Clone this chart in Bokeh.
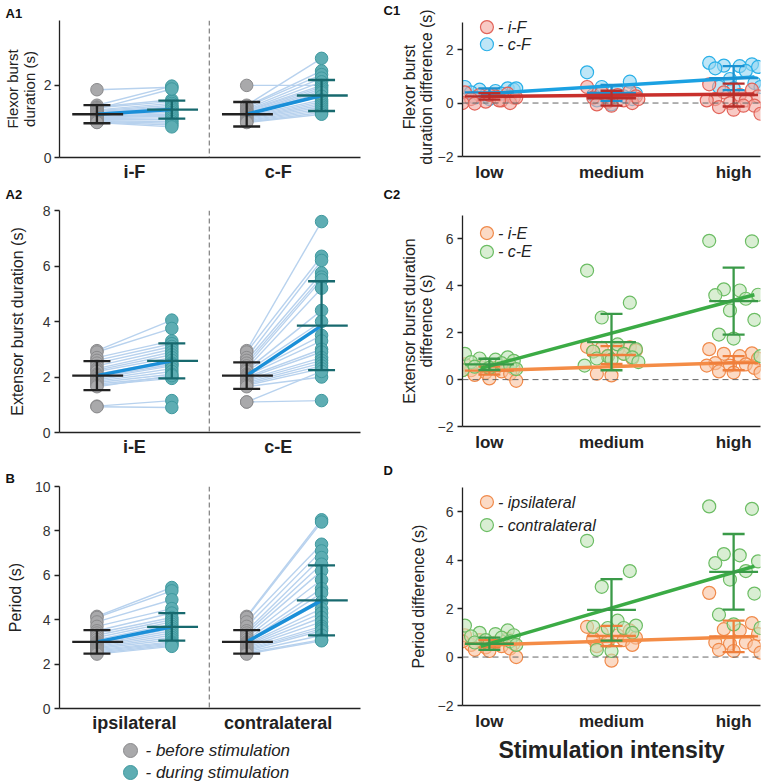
from bokeh.plotting import figure
from bokeh.layouts import row, column
from bokeh.models import FixedTicker, Span, Title, Range1d
from bokeh.embed import file_html
from bokeh.resources import INLINE
from bokeh.core.properties import value

FONT = "Liberation Sans"

# ---------------- Left panels: paired data (before -> during stimulation) ----------------
left_tick_pos = [1.5, 3.42]
a1_ticklabels = ["i-F", "c-F"]
a2_ticklabels = ["i-E", "c-E"]
b_ticklabels = ["ipsilateral", "contralateral"]

# A1 flexor burst duration (s)
a1_ipsi_before = [1.88, 1.45, 1.4, 1.38, 1.35, 1.32, 1.3, 1.28, 1.25, 1.22, 1.2, 1.18, 1.15, 1.12, 1.1, 1.08, 1.05, 1.02, 1.0, 0.98, 0.97]
a1_ipsi_during = [1.95, 1.98, 1.6, 1.55, 1.9, 1.5, 1.45, 1.4, 1.38, 1.35, 1.3, 1.25, 1.2, 1.18, 1.15, 1.1, 1.05, 1.0, 0.95, 0.9, 0.85]
a1_contra_before = [2.0, 1.45, 1.42, 1.4, 1.35, 1.32, 1.3, 1.28, 1.25, 1.22, 1.2, 1.18, 1.15, 1.12, 1.1, 1.08, 1.05, 1.02, 1.0, 0.98, 0.97]
a1_contra_during = [2.0, 2.75, 2.4, 2.3, 2.2, 2.1, 2.0, 1.95, 1.9, 1.85, 1.8, 1.7, 1.6, 1.55, 1.5, 1.45, 1.4, 1.35, 1.3, 1.25, 1.2]
a1_mean = [1.2, 1.33, 1.2, 1.72]
a1_sd = [0.25, 0.25, 0.34, 0.43]

# A2 extensor burst duration (s)
a2_ipsi_before = [2.95, 2.9, 2.7, 2.6, 2.5, 2.4, 2.3, 2.25, 2.2, 2.1, 2.05, 2.0, 1.95, 1.9, 1.85, 1.8, 1.75, 1.7, 1.65, 0.95, 0.93]
a2_ipsi_during = [4.05, 3.75, 3.3, 3.2, 3.1, 3.0, 2.9, 2.8, 2.7, 2.6, 2.5, 2.45, 2.4, 2.3, 2.2, 2.1, 2.0, 1.95, 2.05, 1.15, 0.9]
a2_contra_before = [2.95, 2.9, 2.7, 2.6, 2.5, 2.4, 2.3, 2.25, 2.2, 2.1, 2.05, 2.0, 1.95, 1.9, 1.85, 1.8, 1.75, 1.7, 1.65, 1.1, 1.1]
a2_contra_during = [7.6, 6.35, 6.2, 5.75, 5.6, 5.5, 5.2, 4.4, 4.0, 3.5, 3.3, 3.0, 2.9, 2.7, 2.6, 2.5, 2.4, 2.3, 2.0, 2.2, 1.15]
a2_mean = [2.05, 2.58, 2.05, 3.85]
a2_sd = [0.52, 0.63, 0.48, 1.6]

# B period (s)
b_ipsi_before = [4.15, 4.1, 3.9, 3.7, 3.5, 3.4, 3.3, 3.2, 3.1, 3.0, 2.95, 2.9, 2.85, 2.8, 2.75, 2.7, 2.65, 2.6, 2.55, 2.5, 2.45]
b_ipsi_during = [5.45, 5.3, 4.9, 4.5, 4.3, 4.1, 4.0, 3.9, 3.8, 3.7, 3.6, 3.5, 3.4, 3.3, 3.2, 3.1, 3.0, 2.95, 2.9, 2.85, 2.8]
b_contra_before = [4.15, 4.1, 3.9, 3.7, 3.5, 3.4, 3.3, 3.2, 3.1, 3.0, 2.95, 2.9, 2.85, 2.8, 2.75, 2.7, 2.65, 2.6, 2.55, 2.5, 2.45]
b_contra_during = [8.5, 8.4, 7.4, 7.1, 6.8, 6.5, 6.2, 5.8, 5.4, 5.2, 4.8, 4.5, 4.3, 4.1, 3.9, 3.7, 3.6, 3.5, 3.3, 3.1, 3.05]
b_mean = [3.0, 3.68, 3.0, 4.87]
b_sd = [0.53, 0.62, 0.53, 1.58]

# ---------------- Right panels: differences vs stimulation intensity ----------------
intensity = ["low", "medium", "high"]
jitter = [-0.2, 0.15, -0.08, 0.05, 0.2, -0.15, 0.1, -0.03, 0.17, -0.12, 0.0, 0.22, -0.22, 0.08]

# C1 flexor difference
c1_iF_low = [0.4, 0.35, 0.3, 0.25, 0.2, 0.15, 0.1, 0.05, 0.0, -0.02, 0.3, 0.2, 0.0, 0.1]
c1_iF_med = [0.6, 0.45, 0.4, 0.3, 0.25, 0.2, 0.1, 0.05, 0.0, -0.05, -0.1, 0.15]
c1_iF_high = [0.7, 0.5, 0.4, 0.3, 0.25, 0.15, 0.1, 0.0, -0.1, -0.15, -0.25, -0.4, 0.1, -0.1]
c1_cF_low = [0.6, 0.55, 0.5, 0.45, 0.5, 0.4, 0.35, 0.3, 0.25, 0.2, 0.15, 0.55]
c1_cF_med = [1.15, 0.8, 0.6, 0.45, 0.35, 0.3, 0.25, 0.2, 0.15, 0.1, -0.05]
c1_cF_high = [1.5, 1.45, 1.4, 1.38, 1.35, 1.3, 1.2, 0.9, 0.75, 0.6, 0.55, 0.6]
c1_iF_mean = [0.25, 0.18, 0.3]
c1_iF_sd = [0.12, 0.28, 0.43]
c1_cF_mean = [0.4, 0.38, 0.93]
c1_cF_sd = [0.15, 0.3, 0.45]
c1_iF_fit = [0.25, 0.33]
c1_cF_fit = [0.36, 0.93]

# C2 extensor difference
c2_iE_low = [0.65, 0.6, 0.55, 0.5, 0.45, 0.4, 0.35, 0.3, 0.25, 0.2, 0.05, -0.05, 0.4]
c2_iE_med = [1.4, 1.38, 1.35, 1.3, 1.25, 1.2, 1.1, 1.0, 0.9, 0.25, 0.18]
c2_iE_high = [1.3, 1.12, 1.1, 1.0, 0.9, 0.7, 0.65, 0.6, 0.5, 0.35, 0.3, 0.3, 0.6]
c2_cE_low = [1.1, 0.95, 0.9, 0.85, 0.8, 0.75, 0.7, 0.65, 0.6, 0.55, 0.5, 0.45, 0.4]
c2_cE_med = [4.65, 3.28, 2.65, 1.5, 1.3, 1.2, 1.1, 1.0, 0.95, 0.9, 0.85, 0.75, 0.6]
c2_cE_high = [5.92, 5.9, 3.85, 3.8, 3.62, 3.6, 3.45, 2.95, 2.55, 1.92, 1.75, 1.0]
c2_iE_mean = [0.38, 1.05, 0.7]
c2_iE_sd = [0.17, 0.38, 0.3]
c2_cE_mean = [0.65, 1.6, 3.35]
c2_cE_sd = [0.24, 1.2, 1.43]
c2_iE_fit = [0.38, 0.72]
c2_cE_fit = [0.58, 3.38]

# D period difference
d_ipsi_low = [0.9, 0.75, 0.7, 0.6, 0.55, 0.5, 0.45, 0.4, 0.35, 0.3, 0.25, 0.0, 0.65]
d_ipsi_med = [1.25, 1.1, 1.0, 0.9, 0.8, 0.75, 0.7, 0.65, 0.5, 0.45, -0.15]
d_ipsi_high = [2.65, 1.4, 1.15, 1.1, 0.95, 0.6, 0.6, 0.55, 0.45, 0.3, 0.25, 0.18]
d_contra_low = [1.3, 1.1, 1.0, 0.95, 0.9, 0.85, 0.8, 0.7, 0.65, 0.6, 0.55, 0.5]
d_contra_med = [4.8, 3.55, 2.9, 1.5, 1.3, 1.25, 1.2, 1.2, 1.0, 0.3, 0.25]
d_contra_high = [6.22, 6.12, 4.25, 4.2, 3.95, 3.88, 3.55, 3.2, 2.62, 1.75, 1.35, 1.2]
d_ipsi_mean = [0.55, 0.87, 0.85]
d_ipsi_sd = [0.15, 0.42, 0.65]
d_contra_mean = [0.55, 1.95, 3.52]
d_contra_sd = [0.25, 1.27, 1.56]
d_ipsi_fit = [0.5, 0.82]
d_contra_fit = [0.55, 3.5]

# ---------------- Styles ----------------
GRAY_F, GRAY_L = "#a9a9ab", "#8a8a8c"
TEAL_F, TEAL_L = "#5eadb3", "#3f999f"
PAIR = "#b8d2ee"
MEANLINE = "#1a8fd8"
BLACK = "#222222"
TEAL_D = "#17696e"
STY = {
    "red": dict(fill="#f3a79e", line="#e2645a", fit="#c8302c", err="#b82e2a"),
    "blue": dict(fill="#92d5f2", line="#2ab0e8", fit="#1ba1e2", err="#1b92d2"),
    "orange": dict(fill="#f9c29e", line="#f08a4b", fit="#f48c46", err="#ef7f3c"),
    "green": dict(fill="#bfe3b5", line="#6cbd64", fit="#3bab45", err="#3a9a48"),
}


def make_fig(w, h, bl, bt, br, bb, xr, yr):
    p = figure(width=w, height=h, x_range=Range1d(*xr), y_range=Range1d(*yr),
               output_backend="svg", toolbar_location=None,
               min_border_left=bl, min_border_top=bt, min_border_right=br, min_border_bottom=bb)
    p.outline_line_color = None
    p.background_fill_color = "white"
    p.border_fill_color = "white"
    p.xgrid.visible = False
    p.ygrid.visible = False
    for ax in (p.xaxis[0], p.yaxis[0]):
        ax.axis_line_color = "#222"
        ax.axis_line_width = 1.3
        ax.minor_tick_line_color = None
        ax.major_label_text_font = FONT
        ax.axis_label_text_font = FONT
        ax.axis_label_text_font_style = "normal"
        ax.axis_label_text_color = "#222"
    y = p.yaxis[0]
    y.major_tick_out = 5
    y.major_tick_in = 0
    y.major_tick_line_color = "#222"
    y.major_tick_line_width = 1.3
    y.major_label_text_font_size = "14px"
    y.major_label_text_color = "#333"
    y.major_label_standoff = 4
    y.axis_label_text_font_size = "16px"
    y.axis_label_text_line_height = 1.0
    y.axis_label_standoff = 5
    x = p.xaxis[0]
    x.major_tick_line_color = None
    x.major_tick_out = 0
    x.major_tick_in = 0
    x.major_label_text_font_style = "bold"
    x.major_label_text_color = "#222"
    return p


def letter(p, text, side, offset, standoff):
    t = Title(text=text, align="left", offset=offset, standoff=standoff, text_font=FONT,
              text_font_style="bold", text_font_size="13px", text_color="#111")
    if side == "above":
        p.title = t
    else:
        p.add_layout(t, side)


LW, LBL, LBR = 375, 59, 15


def left_panel(h, bt, fh, ymax, yticks, ylabel, lstand, ticklabels, before_i, during_i, before_c, during_c, means, sds):
    p = make_fig(LW, h, LBL, bt, LBR, h - bt - fh, (0.5, 4.52), (0, ymax))
    p.yaxis.ticker = FixedTicker(ticks=yticks)
    p.yaxis.axis_label = ylabel
    p.yaxis.axis_label_standoff = lstand
    p.xaxis.ticker = FixedTicker(ticks=left_tick_pos)
    p.xaxis.major_label_overrides = {t: l for t, l in zip(left_tick_pos, ticklabels)}
    p.xaxis.major_label_text_font_size = "18px"
    p.xaxis.major_label_standoff = 4
    p.add_layout(Span(location=2.5, dimension="height", line_color="#666", line_dash="5 3", line_width=1))
    pos = [1, 2, 3, 4]
    sets = [(before_i, during_i, pos[0], pos[1]), (before_c, during_c, pos[2], pos[3])]
    for b, d, xb, xd in sets:
        p.multi_line(xs=[[xb, xd] for _ in b], ys=[[u, v] for u, v in zip(b, d)],
                     line_color=PAIR, line_width=1.4)
    for b, d, xb, xd in sets:
        p.scatter(x=[xb] * len(b), y=b, size=12.5, fill_color=GRAY_F, line_color=GRAY_L, line_width=1)
        p.scatter(x=[xd] * len(d), y=d, size=12.5, fill_color=TEAL_F, line_color=TEAL_L, line_width=1)
    for k in (0, 2):
        p.line(x=[pos[k], pos[k + 1]], y=[means[k], means[k + 1]], line_color=MEANLINE, line_width=3.5)
    cols = [BLACK, TEAL_D, BLACK, TEAL_D]
    p.segment(x0=[x - 0.33 for x in pos], x1=[x + 0.35 for x in pos], y0=means, y1=means,
              line_color=cols, line_width=2.3)
    p.segment(x0=pos, x1=pos, y0=[m - s for m, s in zip(means, sds)], y1=[m + s for m, s in zip(means, sds)],
              line_color=cols, line_width=2.3)
    for sign in (-1, 1):
        ys = [m + sign * s for m, s in zip(means, sds)]
        p.segment(x0=[x - 0.18 for x in pos], x1=[x + 0.18 for x in pos], y0=ys, y1=ys,
                  line_color=cols, line_width=2.3)
    return p


RW, RBL, RBR = 388, 87, 3
lvl_pos = [1, 2, 3]


def right_panel(h, bt, fh, ymin, ymax, ybounds, yticks, ylabel, lstand, groups, legend_y, legend_labels, legend_groups):
    p = make_fig(RW, h, RBL, bt, RBR, h - bt - fh, (0.78, 3.22), (ymin, ymax))
    p.yaxis.ticker = FixedTicker(ticks=yticks)
    p.yaxis.bounds = ybounds
    p.yaxis.axis_label = ylabel
    p.yaxis.axis_label_standoff = lstand
    p.xaxis.ticker = FixedTicker(ticks=lvl_pos)
    p.xaxis.major_label_overrides = {t: l for t, l in zip(lvl_pos, intensity)}
    p.xaxis.major_label_text_font_size = "17px"
    p.xaxis.major_label_standoff = 6
    p.add_layout(Span(location=0, dimension="width", line_color="#666", line_dash="6 4", line_width=1))
    for vals, means, sds, fit, sty in groups:
        s = STY[sty]
        for lp, v in zip(lvl_pos, vals):
            p.scatter(x=[lp + jitter[i] for i in range(len(v))], y=v, size=13,
                      fill_color=s["fill"], fill_alpha=0.6, line_color=s["line"], line_width=1.2)
    for vals, means, sds, fit, sty in groups:
        s = STY[sty]
        fx = [0.93, 3.17]
        fy = [fit[0] + (fit[1] - fit[0]) * (x - 1) / 2 for x in fx]
        p.line(x=fx, y=fy, line_color=s["fit"], line_width=3.5)
        p.segment(x0=[x - 0.2 for x in lvl_pos], x1=[x + 0.2 for x in lvl_pos], y0=means, y1=means,
                  line_color=s["err"], line_width=2.3)
        p.segment(x0=lvl_pos, x1=lvl_pos, y0=[m - sd for m, sd in zip(means, sds)],
                  y1=[m + sd for m, sd in zip(means, sds)], line_color=s["err"], line_width=2.3)
        for sign in (-1, 1):
            ys = [m + sign * sd for m, sd in zip(means, sds)]
            p.segment(x0=[x - 0.09 for x in lvl_pos], x1=[x + 0.09 for x in lvl_pos], y0=ys, y1=ys,
                      line_color=s["err"], line_width=2.3)
    lsty = [STY[g] for g in legend_groups]
    p.scatter(x=[0.98, 0.98], y=legend_y, size=13, fill_color=[s["fill"] for s in lsty], fill_alpha=0.6,
              line_color=[s["line"] for s in lsty], line_width=1.2)
    p.text(x=[1.07, 1.07], y=legend_y, text=legend_labels, text_font=value(FONT),
           text_font_style="italic", text_font_size="16px", text_baseline="middle", text_color="#222")
    return p


# ---------------- Build panels ----------------
pA1 = left_panel(201, 20, 140, 3.8, [0, 2], "Flexor burst\nduration (s)", 3, a1_ticklabels,
                 a1_ipsi_before, a1_ipsi_during, a1_contra_before, a1_contra_during, a1_mean, a1_sd)
pA1.yaxis.axis_label_text_font_size = "15px"
pA1.yaxis.major_label_standoff = 3
letter(pA1, "A1", "above", -54, 0)
letter(pA1, "A2", "below", -54, 0)
pA2 = left_panel(267, 9, 222, 8, [0, 2, 4, 6, 8], "Extensor burst duration (s)", 14, a2_ticklabels,
                 a2_ipsi_before, a2_ipsi_during, a2_contra_before, a2_contra_during, a2_mean, a2_sd)
pB = left_panel(272, 17, 223, 10, [0, 2, 4, 6, 8, 10], "Period (s)", 8, b_ticklabels,
                b_ipsi_before, b_ipsi_during, b_contra_before, b_contra_during, b_mean, b_sd)
letter(pB, "B", "above", -54, 1)

# bottom-left legend (frame aligned with the panels above)
LFW = LW - LBL - LBR
pL = figure(width=LW, height=43, x_range=Range1d(0, LFW), y_range=Range1d(0, 43),
            output_backend="svg", toolbar_location=None,
            min_border_left=LBL, min_border_right=LBR, min_border_top=0, min_border_bottom=0,
            x_axis_type=None, y_axis_type=None)
pL.outline_line_color = None
pL.grid.visible = False
legend_left_labels = ["- before stimulation", "- during stimulation"]
pL.scatter(x=[71, 71], y=[33, 11], size=14, fill_color=[GRAY_F, TEAL_F], line_color=[GRAY_L, TEAL_L])
pL.text(x=[86, 86], y=[33, 11], text=legend_left_labels, text_font=value(FONT), text_font_style="italic",
        text_font_size="17px", text_baseline="middle", text_color="#222")

c1_groups = [
    ([c1_cF_low, c1_cF_med, c1_cF_high], c1_cF_mean, c1_cF_sd, c1_cF_fit, "blue"),
    ([c1_iF_low, c1_iF_med, c1_iF_high], c1_iF_mean, c1_iF_sd, c1_iF_fit, "red"),
]
pC1 = right_panel(201, 15, 145, -2, 3.2, (-2, 3), [-2, 0, 2], "Flexor burst\nduration difference (s)", 0,
                  c1_groups, [2.84, 2.2], ["- i-F", "- c-F"], ["red", "blue"])
letter(pC1, "C1", "above", -79, 0)
letter(pC1, "C2", "below", -79, 0)

c2_groups = [
    ([c2_iE_low, c2_iE_med, c2_iE_high], c2_iE_mean, c2_iE_sd, c2_iE_fit, "orange"),
    ([c2_cE_low, c2_cE_med, c2_cE_high], c2_cE_mean, c2_cE_sd, c2_cE_fit, "green"),
]
pC2 = right_panel(283, 14, 217, -2, 7, (-2, 7), [-2, 0, 2, 4, 6], "Extensor burst duration\ndifference (s)", 0,
                  c2_groups, [6.25, 5.45], ["- i-E", "- c-E"], ["orange", "green"])
letter(pC2, "D", "below", -79, 13)

d_groups = [
    ([d_ipsi_low, d_ipsi_med, d_ipsi_high], d_ipsi_mean, d_ipsi_sd, d_ipsi_fit, "orange"),
    ([d_contra_low, d_contra_med, d_contra_high], d_contra_mean, d_contra_sd, d_contra_fit, "green"),
]
pD = right_panel(299, 3, 218, -2, 7, (-2, 7), [-2, 0, 2, 4, 6], "Period difference (s)", 8,
                 d_groups, [6.4, 5.45], ["- ipsilateral", "- contralateral"], ["orange", "green"])
pD.xaxis.axis_label = "Stimulation intensity"
pD.xaxis.axis_label_text_font_style = "bold"
pD.xaxis.axis_label_text_font_size = "23px"
pD.xaxis.axis_label_standoff = 3

layout = row(column(pA1, pA2, pB, pL), column(pC1, pC2, pD))
open("out.html", "w").write(file_html(layout, INLINE))
